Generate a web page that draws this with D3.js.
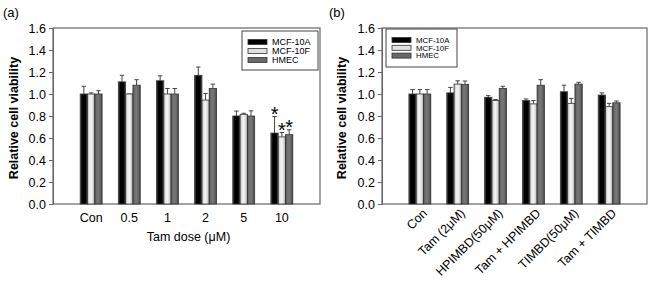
<html>
<head>
    <script src="https://cdnjs.cloudflare.com/ajax/libs/d3/7.8.5/d3.min.js"></script>
    <style>
        body { margin: 0; background: #fff; }
        svg { font-family: "Liberation Sans", Arial, sans-serif; }
    </style>
</head>
<body>
    <script>
        var seriesNames = ["MCF-10A", "MCF-10F", "HMEC"];

        // panel (a)
        var catsA = ["Con", "0.5", "1", "2", "5", "10"];
        var meanA = [[1.00, 1.00, 1.00], [1.11, 1.00, 1.08], [1.12, 1.00, 1.00],
                     [1.17, 0.945, 1.05], [0.80, 0.815, 0.80], [0.645, 0.61, 0.63]];
        var errA = [[0.07, 0.01, 0.03], [0.06, 0.0, 0.05], [0.045, 0.05, 0.05],
                    [0.075, 0.06, 0.04], [0.045, 0.01, 0.047], [0.15, 0.04, 0.045]];
        var starsA = [[false, false, false], [false, false, false], [false, false, false],
                      [false, false, false], [false, false, false], [true, true, true]];

        // panel (b)
        var catsB = ["Con", "Tam (2\u03bcM)", "HPIMBD(50\u03bcM)", "Tam + HPIMBD", "TIMBD(50\u03bcM)", "Tam + TIMBD"];
        var meanB = [[1.00, 1.00, 1.00], [1.01, 1.09, 1.088], [0.97, 0.94, 1.05],
                     [0.94, 0.91, 1.08], [1.02, 0.915, 1.09], [0.99, 0.885, 0.92]];
        var errB = [[0.04, 0.04, 0.04], [0.05, 0.03, 0.03], [0.015, 0.01, 0.02],
                    [0.015, 0.03, 0.05], [0.06, 0.045, 0.016], [0.02, 0.03, 0.016]];

        var yTicks = [0, 0.2, 0.4, 0.6, 0.8, 1.0, 1.2, 1.4, 1.6];

        var svg = d3.select("body").append("svg")
            .attr("width", 650)
            .attr("height", 282);

        // shading for the bars
        var defs = svg.append("defs");
        var grads = [
            ["g0", ["#555", "#000", "#000", "#000", "#555"]],
            ["g1", ["#aaa", "#e8e8e8", "#f4f4f4", "#d8d8d8", "#aaa"]],
            ["g2", ["#555", "#707070", "#777", "#666", "#444"]]
        ];
        grads.forEach(function (g) {
            var lg = defs.append("linearGradient").attr("id", g[0])
                .attr("x1", "0").attr("x2", "1").attr("y1", "0").attr("y2", "0");
            g[1].forEach(function (c, i) {
                lg.append("stop").attr("offset", (i / (g[1].length - 1))).attr("stop-color", c);
            });
        });
        var fills = ["url(#g0)", "url(#g1)", "url(#g2)"];

        var y = d3.scaleLinear().domain([0, 1.6]).range([204, 28]);

        function drawPanel(opt) {
            var x = d3.scaleLinear().domain([0, 7]).range([opt.left, opt.right]);
            var g = svg.append("g");
            var barW = 7.3;

            // frame
            g.append("rect")
                .attr("x", opt.left).attr("y", y(1.6))
                .attr("width", opt.right - opt.left).attr("height", y(0) - y(1.6))
                .attr("fill", "none").attr("stroke", "#666").attr("stroke-width", 1.2);

            var yAxis = d3.axisLeft(y).tickValues(yTicks).tickSize(4).tickPadding(3)
                .tickFormat(d3.format(".1f"));
            var ya = g.append("g").attr("transform", "translate(" + opt.left + ",0)").call(yAxis);
            ya.select(".domain").attr("stroke", "#666");
            ya.selectAll(".tick line").attr("stroke", "#666");
            ya.selectAll("text").attr("font-size", 12.5).attr("fill", "#000");

            opt.means.forEach(function (row, i) {
                var cx = x(i + 1);
                row.forEach(function (v, j) {
                    var bx = cx + (j - 1.5) * barW;
                    var bc = bx + barW / 2;
                    var top = y(v + opt.errs[i][j]);
                    g.append("line")
                        .attr("x1", bc).attr("x2", bc)
                        .attr("y1", y(v)).attr("y2", top)
                        .attr("stroke", "#444").attr("stroke-width", 1);
                    g.append("line")
                        .attr("x1", bc - 2.2).attr("x2", bc + 2.2)
                        .attr("y1", top).attr("y2", top)
                        .attr("stroke", "#444").attr("stroke-width", 1);
                    g.append("rect")
                        .attr("x", bx).attr("y", y(v))
                        .attr("width", barW).attr("height", y(0) - y(v))
                        .attr("fill", fills[j])
                        .attr("stroke", "#333").attr("stroke-width", 0.8);
                    if (opt.stars && opt.stars[i][j]) {
                        g.append("text")
                            .attr("x", bc).attr("y", top + 4)
                            .attr("text-anchor", "middle")
                            .attr("font-size", 20)
                            .text("*");
                    }
                });
            });

            // category labels
            opt.cats.forEach(function (c, i) {
                var t = g.append("text").attr("font-size", 12.5).text(c);
                if (opt.rotate) {
                    t.attr("text-anchor", "end")
                        .attr("transform", "translate(" + (x(i + 1) + 8) + ",214) rotate(-45)");
                } else {
                    t.attr("x", x(i + 1)).attr("y", 222).attr("text-anchor", "middle");
                }
            });

            if (opt.xTitle) {
                g.append("text")
                    .attr("x", (opt.left + opt.right) / 2 + 2).attr("y", 241)
                    .attr("text-anchor", "middle").attr("font-size", 12.5)
                    .text(opt.xTitle);
            }

            g.append("text")
                .attr("transform", "translate(" + opt.titleX + ",118) rotate(-90)")
                .attr("text-anchor", "middle").attr("font-weight", "bold")
                .attr("font-size", 12.5)
                .text("Relative cell viability");

            g.append("text")
                .attr("x", opt.labelX).attr("y", 17)
                .attr("font-size", 13).text(opt.label);

            // legend
            var L = opt.legend;
            g.append("rect")
                .attr("x", L.x).attr("y", L.y).attr("width", L.w).attr("height", L.h)
                .attr("fill", "#fff").attr("stroke", "#444").attr("stroke-width", 1);
            seriesNames.forEach(function (s, j) {
                var ry = L.y + L.first + j * L.step;
                g.append("rect")
                    .attr("x", L.x + 6).attr("y", ry - 2.5)
                    .attr("width", 19).attr("height", 5)
                    .attr("fill", ["#000", "#e0e0e0", "#686868"][j])
                    .attr("stroke", "#333").attr("stroke-width", 0.8);
                g.append("text")
                    .attr("x", L.x + L.tx).attr("y", ry + L.fs * 0.36)
                    .attr("font-size", L.fs).text(s);
            });
        }

        drawPanel({
            left: 53, right: 320, cats: catsA, means: meanA, errs: errA, stars: starsA,
            rotate: false, xTitle: "Tam dose (\u03bcM)", titleX: 18, labelX: 3, label: "(a)",
            legend: { x: 242, y: 31, w: 76, h: 39, first: 11, step: 9, tx: 30, fs: 9 }
        });
        drawPanel({
            left: 382, right: 647, cats: catsB, means: meanB, errs: errB,
            rotate: true, titleX: 346, labelX: 329, label: "(b)",
            legend: { x: 386, y: 29, w: 71, h: 38, first: 11, step: 7.8, tx: 30, fs: 7.8 }
        });
    </script>
</body>
</html>
